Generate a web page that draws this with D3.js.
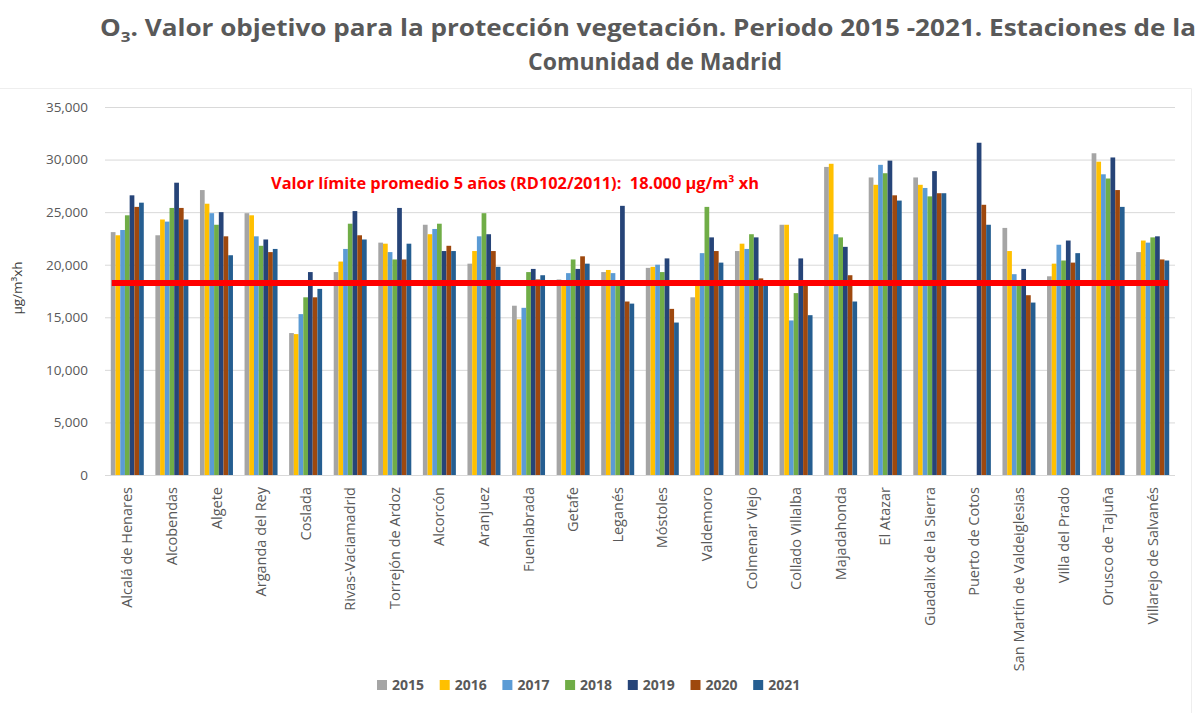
<!DOCTYPE html>
<html>
<head>
<meta charset="utf-8">
<script src="https://cdn.jsdelivr.net/npm/d3@7"></script>
<style>
  body { margin: 0; background: #fff; }
  text { font-family: "Open Sans", sans-serif; }
</style>
</head>
<body>
<script>
// stations and yearly values (thousands of µg/m³·h)
const stations = ["Alcalá de Henares", "Alcobendas", "Algete", "Arganda del Rey", "Coslada",
  "Rivas-Vaciamadrid", "Torrejón de Ardoz", "Alcorcón", "Aranjuez", "Fuenlabrada", "Getafe",
  "Leganés", "Móstoles", "Valdemoro", "Colmenar Viejo", "Collado Villalba", "Majadahonda",
  "El Atazar", "Guadalix de la Sierra", "Puerto de Cotos", "San Martín de Valdeiglesias",
  "Villa del Prado", "Orusco de Tajuña", "Villarejo de Salvanés"];
const years = ["2015", "2016", "2017", "2018", "2019", "2020", "2021"];
const colors = ["#a5a5a5", "#ffc000", "#5b9bd5", "#70ad47", "#264478", "#9e480e", "#255e91"];

const v2015 = [23.1, 22.8, 27.1, 24.9, 13.5, 19.3, 22.1, 23.8, 20.1, 16.1, 18.6, 19.3, 19.7, 16.9, 21.3, 23.8, 29.3, 28.3, 28.3, null, 23.5, 18.9, 30.6, 21.2];
const v2016 = [22.8, 24.3, 25.8, 24.7, 13.4, 20.3, 22.0, 22.9, 21.3, 14.8, 18.3, 19.5, 19.8, 18.0, 22.0, 23.8, 29.6, 27.6, 27.6, null, 21.3, 20.1, 29.8, 22.3];
const v2017 = [23.3, 24.1, 24.9, 22.7, 15.3, 21.5, 21.2, 23.4, 22.7, 15.9, 19.2, 19.2, 20.0, 21.1, 21.5, 14.7, 22.9, 29.5, 27.3, null, 19.1, 21.9, 28.6, 22.1];
const v2018 = [24.7, 25.4, 23.8, 21.8, 16.9, 23.9, 20.5, 23.9, 24.9, 19.3, 20.5, 18.5, 19.3, 25.5, 22.9, 17.3, 22.6, 28.7, 26.5, null, 18.5, 20.4, 28.2, 22.6];
const v2019 = [26.6, 27.8, 25.0, 22.4, 19.3, 25.1, 25.4, 21.3, 22.9, 19.6, 19.6, 25.6, 20.6, 22.6, 22.6, 20.6, 21.7, 29.9, 28.9, 31.6, 19.6, 22.3, 30.2, 22.7];
const v2020 = [25.5, 25.4, 22.7, 21.2, 16.9, 22.8, 20.5, 21.8, 21.3, 18.6, 20.8, 16.5, 15.8, 21.3, 18.7, 18.5, 19.0, 26.6, 26.8, 25.7, 17.1, 20.2, 27.1, 20.5];
const v2021 = [25.9, 24.3, 20.9, 21.5, 17.7, 22.4, 22.0, 21.3, 19.8, 19.0, 20.1, 16.3, 14.5, 20.2, 18.5, 15.2, 16.5, 26.1, 26.8, 23.8, 16.4, 21.1, 25.5, 20.4];
const series = [v2015, v2016, v2017, v2018, v2019, v2020, v2021];

const yTicks = [0, 5000, 10000, 15000, 20000, 25000, 30000, 35000];
const limitValue = 18250;
const limitLabel = "Valor límite promedio 5 años (RD102/2011):  18.000 µg/m³ xh";

const width = 1202, height = 713;
const plotLeft = 105, plotRight = 1175, plotTop = 107, plotBottom = 475;

const svg = d3.select("body").append("svg")
  .attr("width", width)
  .attr("height", height);

// faint frame
svg.append("path")
  .attr("d", "M0,88.5H1191.5V713")
  .attr("fill", "none")
  .attr("stroke", "#eeeeee");

// title
const title = svg.append("text")
  .attr("x", 648).attr("y", 36)
  .attr("text-anchor", "middle")
  .attr("fill", "#595959")
  .attr("font-size", 23)
  .attr("font-weight", "bold")
  .attr("textLength", 1096)
  .attr("lengthAdjust", "spacingAndGlyphs");
title.append("tspan").text("O");
title.append("tspan").attr("font-size", 15).attr("dy", 6).text("3");
title.append("tspan").attr("dy", -6).text(". Valor objetivo para la protección vegetación. Periodo 2015 -2021. Estaciones de la");

svg.append("text")
  .attr("x", 655).attr("y", 70)
  .attr("text-anchor", "middle")
  .attr("fill", "#595959")
  .attr("font-size", 23)
  .attr("font-weight", "bold")
  .text("Comunidad de Madrid");

// scales
const x0 = d3.scaleBand()
  .domain(stations)
  .range([plotLeft, plotRight])
  .paddingInner(0.26)
  .paddingOuter(0.13);
const x1 = d3.scaleBand()
  .domain(years)
  .range([0, x0.bandwidth()]);
const y = d3.scaleLinear()
  .domain([0, 35000])
  .range([plotBottom, plotTop]);

// grid + y axis
const yAxis = d3.axisLeft(y)
  .tickValues(yTicks)
  .tickSize(-(plotRight - plotLeft))
  .tickPadding(17)
  .tickFormat(d3.format(","));
svg.append("g")
  .attr("transform", `translate(${plotLeft},0)`)
  .call(yAxis)
  .call(g => g.select(".domain").remove())
  .call(g => g.selectAll(".tick line").attr("stroke", "#d9d9d9"))
  .call(g => g.selectAll(".tick text")
    .attr("fill", "#595959")
    .attr("font-size", 13.5));

svg.append("text")
  .attr("transform", "translate(22,288) rotate(-90)")
  .attr("text-anchor", "middle")
  .attr("fill", "#404040")
  .attr("font-size", 13.5)
  .text("µg/m³xh");

// bars
const groups = svg.append("g").selectAll("g")
  .data(stations)
  .join("g")
  .attr("transform", d => `translate(${x0(d)},0)`);

groups.selectAll("rect")
  .data((d, i) => years.map((yr, k) => ({ yr, k, v: series[k][i] })).filter(e => e.v != null))
  .join("rect")
  .attr("x", d => x1(d.yr))
  .attr("width", x1.bandwidth())
  .attr("y", d => y(d.v * 1000))
  .attr("height", d => plotBottom - y(d.v * 1000))
  .attr("fill", d => colors[d.k]);

// x axis
const xAxis = d3.axisBottom(x0).tickSize(0).tickPadding(0);
svg.append("g")
  .attr("transform", `translate(0,${plotBottom})`)
  .call(xAxis)
  .call(g => g.select(".domain").attr("stroke", "#d9d9d9").attr("d", `M${plotLeft},0.5H${plotRight}`))
  .call(g => g.selectAll(".tick text")
    .attr("fill", "#595959")
    .attr("font-size", 14.5)
    .attr("text-anchor", "end")
    .attr("transform", "rotate(-90)")
    .attr("x", -12)
    .attr("y", 0)
    .attr("dy", "0.35em"));

// limit line
svg.append("line")
  .attr("x1", x0(stations[0]) + 1)
  .attr("x2", x0(stations[stations.length - 1]) + x0.bandwidth() - 1)
  .attr("y1", y(limitValue))
  .attr("y2", y(limitValue))
  .attr("stroke", "#ff0000")
  .attr("stroke-width", 6);

svg.append("text")
  .attr("x", 271).attr("y", 189)
  .attr("fill", "#ff0000")
  .attr("font-size", 16)
  .attr("font-weight", "bold")
  .attr("textLength", 488)
  .attr("lengthAdjust", "spacingAndGlyphs")
  .attr("xml:space", "preserve")
  .text(limitLabel);

// legend
const legend = svg.append("g").selectAll("g")
  .data(years)
  .join("g")
  .attr("transform", (d, i) => `translate(${377 + i * 62.7},685)`);
legend.append("rect")
  .attr("x", 0).attr("y", -5)
  .attr("width", 10).attr("height", 10)
  .attr("fill", (d, i) => colors[i]);
legend.append("text")
  .attr("x", 15).attr("y", 0)
  .attr("dy", "0.35em")
  .attr("fill", "#595959")
  .attr("font-size", 14)
  .attr("font-weight", "bold")
  .text(d => d);
</script>
</body>
</html>
